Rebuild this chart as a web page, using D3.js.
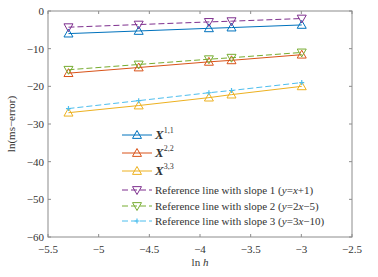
<!DOCTYPE html>
<html>
<head>
<style>
  body, html { margin: 0; padding: 0; background: #fff; }
  text { font-family: "Liberation Serif", "DejaVu Serif", "Times New Roman", serif; }
</style>
</head>
<body>
<svg id="svg" width="378" height="277"></svg>
<script src="https://cdn.jsdelivr.net/npm/d3@7"></script>
<script>
  // ln h for h = 1/200, 1/100, 1/50, 1/40, 1/20
  const lnH = [-5.298, -4.605, -3.912, -3.689, -2.996]
  const err11 = [-6.0, -5.3, -4.6, -4.4, -3.7]
  const err22 = [-16.5, -15.0, -13.5, -13.1, -11.6]
  const err33 = [-27.0, -25.1, -23.0, -22.2, -20.0]
  const ref1 = [-4.3, -3.6, -2.9, -2.7, -2.0]
  const ref2 = [-15.6, -14.2, -12.8, -12.4, -11.0]
  const ref3 = [-25.9, -23.8, -21.7, -21.1, -19.0]
  const xTicks = [-5.5, -5, -4.5, -4, -3.5, -3, -2.5]
  const yTicks = [0, -10, -20, -30, -40, -50, -60]

  const series = [
    { vals: err11, color: '#0072BD', dash: null, marker: 'up', name: 'X', sup: '1,1' },
    { vals: err22, color: '#D95319', dash: null, marker: 'up', name: 'X', sup: '2,2' },
    { vals: err33, color: '#EDB120', dash: null, marker: 'up', name: 'X', sup: '3,3' },
    { vals: ref1, color: '#7E2F8E', dash: '6,3', marker: 'down', slope: 1, eq: ['x+1'] },
    { vals: ref2, color: '#77AC30', dash: '6,3', marker: 'down', slope: 2, eq: ['2', 'x', '−5'] },
    { vals: ref3, color: '#4DBEEE', dash: '6,3', marker: 'plus', slope: 3, eq: ['3', 'x', '−10'] }
  ]

  const svg = d3.select('#svg')
  const x = d3.scaleLinear().domain([-5.5, -2.5]).range([48, 352])
  const y = d3.scaleLinear().domain([-60, 0]).range([237, 11])
  const axisColor = '#8c8c8c'
  const textColor = '#333'
  const fs = 11
  const fmt = d => d3.format('')(d).replace('-', '−')

  // frame
  svg.append('rect')
    .attr('x', x(-5.5)).attr('y', y(0))
    .attr('width', x(-2.5) - x(-5.5)).attr('height', y(-60) - y(0))
    .attr('fill', 'none').attr('stroke', axisColor).attr('stroke-width', 1)

  const tl = 3
  xTicks.forEach(t => {
    svg.append('line').attr('x1', x(t)).attr('x2', x(t)).attr('y1', y(-60)).attr('y2', y(-60) - tl)
      .attr('stroke', axisColor)
    svg.append('line').attr('x1', x(t)).attr('x2', x(t)).attr('y1', y(0)).attr('y2', y(0) + tl)
      .attr('stroke', axisColor)
    svg.append('text').attr('x', x(t)).attr('y', y(-60) + 16)
      .attr('text-anchor', 'middle').attr('font-size', fs).attr('fill', textColor)
      .text(fmt(t))
  })
  yTicks.forEach(t => {
    svg.append('line').attr('x1', x(-5.5)).attr('x2', x(-5.5) + tl).attr('y1', y(t)).attr('y2', y(t))
      .attr('stroke', axisColor)
    svg.append('line').attr('x1', x(-2.5)).attr('x2', x(-2.5) - tl).attr('y1', y(t)).attr('y2', y(t))
      .attr('stroke', axisColor)
    svg.append('text').attr('x', x(-5.5) - 4).attr('y', y(t) + 4)
      .attr('text-anchor', 'end').attr('font-size', fs).attr('fill', textColor)
      .text(fmt(t))
  })

  // axis labels
  const xl = svg.append('text').attr('x', (x(-5.5) + x(-2.5)) / 2).attr('y', 266)
    .attr('text-anchor', 'middle').attr('font-size', fs).attr('fill', textColor)
  xl.append('tspan').text('ln ')
  xl.append('tspan').attr('font-style', 'italic').text('h')

  svg.append('text').attr('transform', `translate(15,${(y(0) + y(-60)) / 2}) rotate(-90)`)
    .attr('text-anchor', 'middle').attr('font-size', fs).attr('fill', textColor)
    .text('ln(ms−error)')

  function drawMarker(g, type, cx, cy, color, s) {
    if (type === 'up') {
      g.append('path').attr('d', `M${cx},${cy - s}L${cx + s},${cy + s * 0.75}L${cx - s},${cy + s * 0.75}Z`)
        .attr('fill', 'none').attr('stroke', color).attr('stroke-width', 1)
    } else if (type === 'down') {
      g.append('path').attr('d', `M${cx},${cy + s}L${cx + s},${cy - s * 0.75}L${cx - s},${cy - s * 0.75}Z`)
        .attr('fill', 'none').attr('stroke', color).attr('stroke-width', 1)
    } else {
      g.append('path').attr('d', `M${cx - 2.5},${cy}H${cx + 2.5}M${cx},${cy - 2.5}V${cy + 2.5}`)
        .attr('stroke', color).attr('stroke-width', 1.2)
    }
  }

  const line = d3.line().x((d, i) => x(lnH[i])).y(d => y(d))

  series.forEach(s => {
    const g = svg.append('g')
    g.append('path').attr('d', line(s.vals))
      .attr('fill', 'none').attr('stroke', s.color).attr('stroke-width', 1)
      .attr('stroke-dasharray', s.dash)
    s.vals.forEach((v, i) => drawMarker(g, s.marker, x(lnH[i]), y(v), s.color, 4.5))
  })

  // legend
  const legY = [135, 153, 171, 190, 206, 221]
  series.forEach((s, i) => {
    const g = svg.append('g')
    const ly = legY[i]
    g.append('line').attr('x1', 122).attr('x2', 152).attr('y1', ly).attr('y2', ly)
      .attr('stroke', s.color).attr('stroke-width', 1).attr('stroke-dasharray', s.dash)
    drawMarker(g, s.marker, 137, ly, s.color, 4.5)
    const t = g.append('text').attr('x', 155).attr('y', ly + 4)
      .attr('font-size', fs).attr('fill', textColor)
    if (s.sup) {
      t.append('tspan').attr('font-weight', 'bold').attr('font-style', 'italic')
        .attr('font-size', 13).text(s.name)
      t.append('tspan').attr('font-size', 8).attr('dy', -6).text(s.sup)
    } else {
      t.append('tspan').text(`Reference line with slope ${s.slope} (`)
      t.append('tspan').attr('font-style', 'italic').text('y')
      t.append('tspan').text('=')
      if (s.slope === 1) {
        t.append('tspan').attr('font-style', 'italic').text('x')
        t.append('tspan').text('+1')
      } else {
        t.append('tspan').text(s.eq[0])
        t.append('tspan').attr('font-style', 'italic').text(s.eq[1])
        t.append('tspan').text(s.eq[2])
      }
      t.append('tspan').text(')')
    }
  })
</script>
</body>
</html>
